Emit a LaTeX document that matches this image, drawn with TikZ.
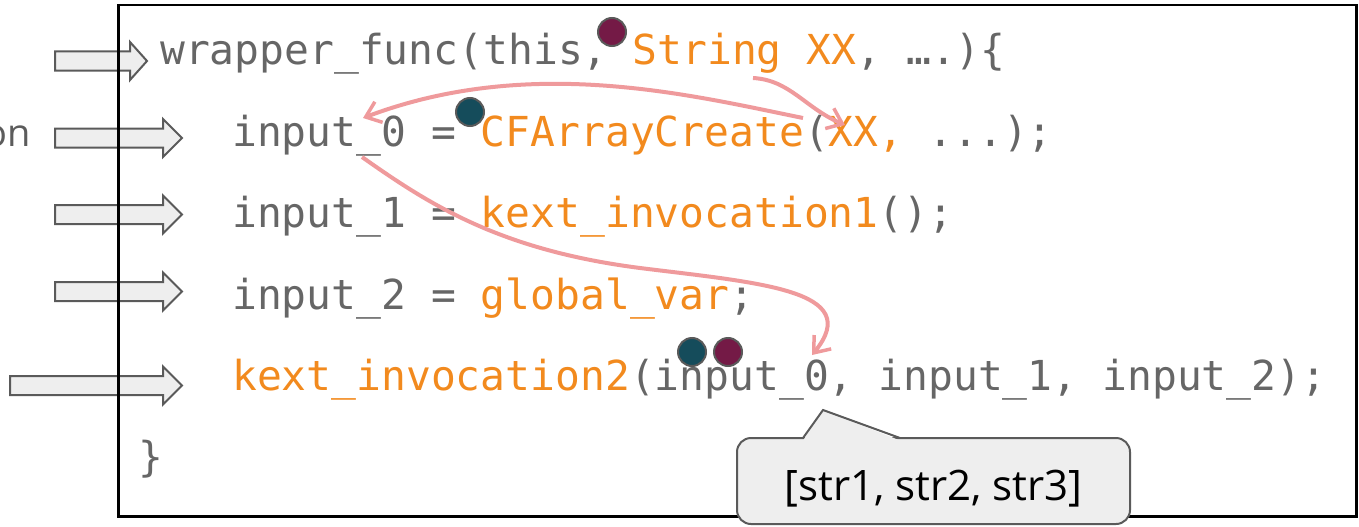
\documentclass[tikz,border=0pt]{standalone}
\usepackage{fontspec}
\usetikzlibrary{arrows.meta}
\newfontfamily\codefont{DejaVu Sans Mono}
\newfontfamily\notefont{Open Sans}
\definecolor{codegrey}{HTML}{666666}
\definecolor{codeorange}{HTML}{F28A1E}
\definecolor{flowpink}{HTML}{EF9A9C}
\definecolor{dotteal}{HTML}{154C5B}
\definecolor{dotmaroon}{HTML}{741A46}
\definecolor{boxfill}{HTML}{EEEEEE}
\definecolor{boxline}{HTML}{5A5A5A}
\newcommand\codeg[1]{\textcolor{codegrey}{#1}}
\newcommand\codeo[1]{\textcolor{codeorange}{#1}}
% block arrow: start x, end of shaft, tip x, centre y
\newcommand\blockarrow[4]{%
  \draw[blockarrow] (#1,#4-9.5) -- (#2,#4-9.5) -- (#2,#4-19) -- (#3,#4)
    -- (#2,#4+19) -- (#2,#4+9.5) -- (#1,#4+9.5) -- cycle;}
\tikzset{
  blockarrow/.style={fill=boxfill, draw=boxline, line width=2pt, line join=miter},
  codeline/.style={anchor=base west, inner sep=0pt, font=\codefont\fontsize{41.3}{41.3}\selectfont},
  frame/.style={draw=black, line width=2.5pt, inner sep=0pt, anchor=north west},
  flow/.style={draw=flowpink, line width=4pt,
    -{Straight Barb[length=14pt,width=22pt,line width=3.5pt]}},
  tag/.style={circle, draw=boxline, line width=2pt, minimum size=28pt, inner sep=0pt},
  note/.style={fill=boxfill, draw=boxline, line width=2pt, rounded corners=14pt,
    minimum width=393pt, minimum height=86pt, inner sep=0pt},
  notetext/.style={anchor=base, inner sep=0pt, font=\notefont\fontsize{42}{42}\selectfont},
}
\begin{document}
\begin{tikzpicture}[x=1pt, y=-1pt]
\useasboundingbox (0,0) rectangle (1359,527);

% side label and entry arrows
\node[anchor=base east, inner sep=0pt, text=codegrey!90!black,
      font=\notefont\fontsize{38}{38}\selectfont] (side) at (31,146) {on};
\blockarrow{55}{130}{147}{61}
\blockarrow{55}{163}{182}{138}
\blockarrow{55}{163}{182}{214.5}
\blockarrow{55}{163}{182}{291.5}
\blockarrow{10}{163}{182}{385.5}

% code frame
\node[frame, minimum width=1238pt, minimum height=511pt] (frame) at (117,4) {};

% code lines
\node[codeline] (l1) at (160,65)
  {\codeg{wrapper\_func(this, }\codeo{String XX}\codeg{, ….)\{}};
\node[codeline] (l2) at (232,146)
  {\codeg{input\_0 = }\codeo{CFArrayCreate}\codeg{(}\codeo{XX, }\codeg{...);}};
\node[codeline] (l3) at (232,227)
  {\codeg{input\_1 = }\codeo{kext\_invocation1}\codeg{();}};
\node[codeline] (l4) at (232,309)
  {\codeg{input\_2 = }\codeo{global\_var}\codeg{;}};
\node[codeline] (l5) at (232,390)
  {\codeo{kext\_invocation2}\codeg{(input\_0, input\_1, input\_2);}};
\node[codeline] (l6) at (138,471) {\codeg{\}}};

% taint tags
\node[tag, fill=dotmaroon] (tagS) at (612,32) {};
\node[tag, fill=dotteal] (tagA) at (470,112) {};
\node[tag, fill=dotteal] (tagA2) at (692,352) {};
\node[tag, fill=dotmaroon] (tagS2) at (728,352) {};

% data flow
\coordinate (strXX) at (753,78);
\coordinate (argXX) at (845,125);
\coordinate (callend) at (803,118);
\coordinate (in0) at (363,118);
\coordinate (in0low) at (362,157);
\coordinate (mid) at (640,268);
\coordinate (use0) at (812,355);
\draw[flow] (strXX) .. controls (790,80) and (805,108) .. (argXX);
\draw[flow] (callend) .. controls (690,95) and (530,55) .. (in0);
\draw[flow] (in0low) .. controls (430,205) and (500,250) .. (mid)
  .. controls (760,283) and (865,290) .. (use0);

% value note
\node[note] (val) at (933.5,481) {};
\node[notetext] (valtext) at (933.5,500) {[str1, str2, str3]};
\coordinate (ptrL) at (803,438);
\coordinate (ptrT) at (823,410);
\coordinate (ptrR) at (900,438);
\fill[boxfill] ([yshift=-2.5pt]ptrL) -- (ptrT) -- ([yshift=-2.5pt]ptrR) -- cycle;
\draw[boxline, line width=2pt, line join=miter] (ptrL) -- (ptrT) -- (ptrR);
\end{tikzpicture}
\end{document}
